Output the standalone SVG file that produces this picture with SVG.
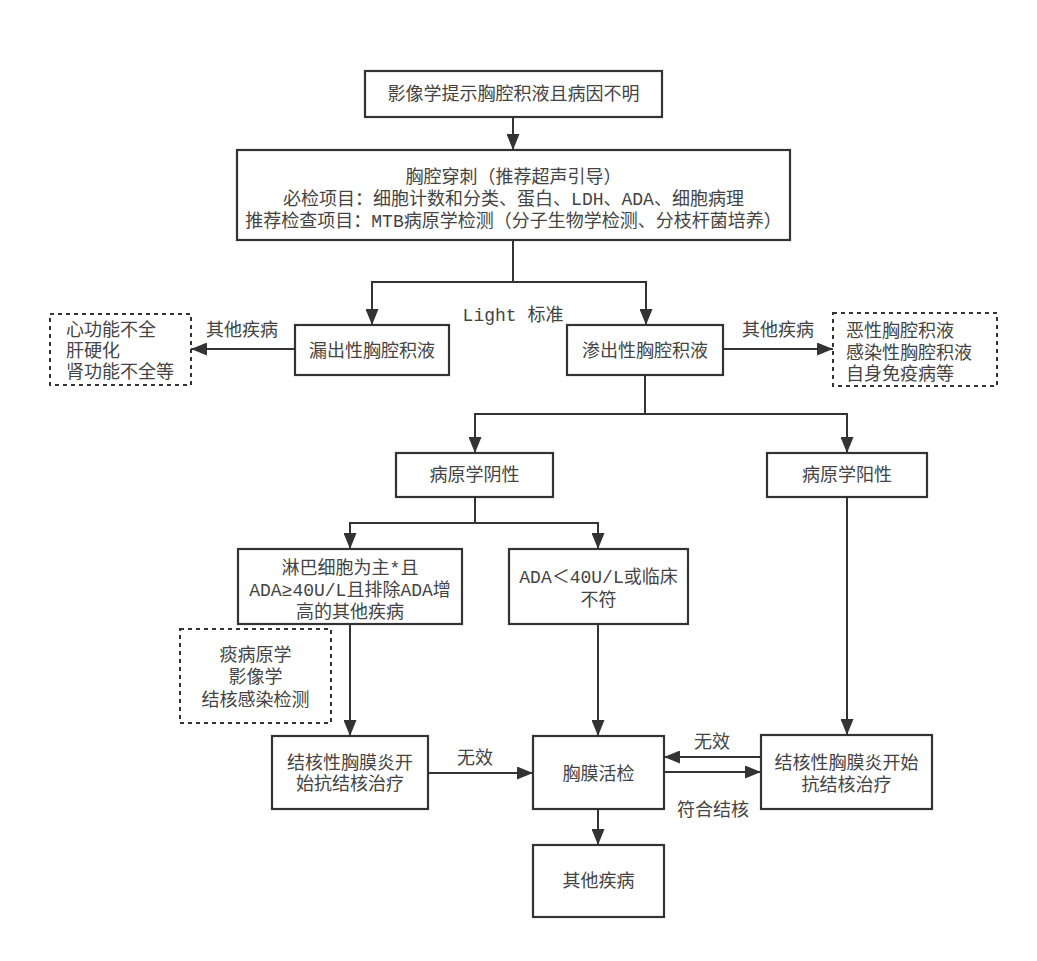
<svg xmlns="http://www.w3.org/2000/svg" width="1037" height="961" viewBox="0 0 1037 961">
<style>
.box{fill:#fff;stroke:#333;stroke-width:2.2}
.dash{fill:#fff;stroke:#333;stroke-width:2;stroke-dasharray:4 4}
.t{font-family:"Liberation Mono","Noto Sans CJK SC",sans-serif;font-size:18px;fill:#444;text-anchor:middle}
.tl{font-family:"Liberation Mono","Noto Sans CJK SC",sans-serif;font-size:18px;fill:#444;text-anchor:start}
.c{fill:none;stroke:#333;stroke-width:2}
</style>
<defs>
<marker id="ah" markerUnits="userSpaceOnUse" markerWidth="16" markerHeight="13" refX="16" refY="6.5" orient="auto">
<path d="M0,0 L16,6.5 L0,13 z" fill="#333"/>
</marker>
</defs>
<rect width="1037" height="961" fill="#fff"/>
<g id="connectors">
<path class="c" d="M513,117 V150" marker-end="url(#ah)"/>
<path class="c" d="M513,240 V282 H372 V325" marker-end="url(#ah)"/>
<path class="c" d="M513,282 H646 V325" marker-end="url(#ah)"/>
<path class="c" d="M295,349 H191" marker-end="url(#ah)"/>
<path class="c" d="M723,349 H833" marker-end="url(#ah)"/>
<path class="c" d="M645,375 V414 H475 V453" marker-end="url(#ah)"/>
<path class="c" d="M645,414 H847 V453" marker-end="url(#ah)"/>
<path class="c" d="M475,497 V523 H350 V549" marker-end="url(#ah)"/>
<path class="c" d="M475,523 H598 V549" marker-end="url(#ah)"/>
<path class="c" d="M350,624 V736" marker-end="url(#ah)"/>
<path class="c" d="M598,624 V736" marker-end="url(#ah)"/>
<path class="c" d="M847,497 V735" marker-end="url(#ah)"/>
<path class="c" d="M428,773 H533" marker-end="url(#ah)"/>
<path class="c" d="M761,757 H664" marker-end="url(#ah)"/>
<path class="c" d="M664,772 H761" marker-end="url(#ah)"/>
<path class="c" d="M598,809 V845" marker-end="url(#ah)"/>
<text class="t" x="513" y="321">Light 标准</text>
<text class="t" x="242" y="336">其他疾病</text>
<text class="t" x="778" y="336">其他疾病</text>
<text class="t" x="475" y="764">无效</text>
<text class="t" x="712" y="748">无效</text>
<text class="t" x="713" y="816">符合结核</text>
</g>
<g id="n1"><rect class="box" x="365" y="71" width="297" height="46"/><text class="t" x="513.5" y="100">影像学提示胸腔积液且病因不明</text></g>
<g id="n2"><rect class="box" x="237" y="150" width="553" height="90"/>
<text class="t" x="513.5" y="183">胸腔穿刺（推荐超声引导）</text>
<text class="t" x="513.5" y="205">必检项目：细胞计数和分类、蛋白、LDH、ADA、细胞病理</text>
<text class="t" x="513.5" y="227">推荐检查项目：MTB病原学检测（分子生物学检测、分枝杆菌培养）</text></g>
<g id="n3"><rect class="box" x="295" y="325" width="154" height="50"/><text class="t" x="372" y="357">漏出性胸腔积液</text></g>
<g id="n4"><rect class="box" x="567" y="325" width="156" height="50"/><text class="t" x="645" y="357">渗出性胸腔积液</text></g>
<g id="n5"><rect class="dash" x="50" y="314" width="141" height="71"/>
<text class="tl" x="66" y="336">心功能不全</text><text class="tl" x="66" y="357">肝硬化</text><text class="tl" x="66" y="378">肾功能不全等</text></g>
<g id="n6"><rect class="dash" x="833" y="313" width="164" height="73"/>
<text class="tl" x="846" y="337">恶性胸腔积液</text><text class="tl" x="846" y="359">感染性胸腔积液</text><text class="tl" x="846" y="380">自身免疫病等</text></g>
<g id="n7"><rect class="box" x="396" y="453" width="157" height="44"/><text class="t" x="474.5" y="481">病原学阴性</text></g>
<g id="n8"><rect class="box" x="767" y="453" width="160" height="44"/><text class="t" x="847" y="481">病原学阳性</text></g>
<g id="n9"><rect class="box" x="238" y="549" width="224" height="75"/>
<text class="t" x="350" y="574">淋巴细胞为主*且</text>
<text class="t" x="350" y="596">ADA≥40U/L且排除ADA增</text>
<text class="t" x="350" y="618">高的其他疾病</text></g>
<g id="n10"><rect class="box" x="509" y="549" width="179" height="75"/>
<text class="t" x="598.5" y="583">ADA＜40U/L或临床</text>
<text class="t" x="598.5" y="606">不符</text></g>
<g id="n11"><rect class="dash" x="180" y="629" width="151" height="94"/>
<text class="t" x="255.5" y="661">痰病原学</text><text class="t" x="255.5" y="683">影像学</text><text class="t" x="255.5" y="706">结核感染检测</text></g>
<g id="n12"><rect class="box" x="272" y="736" width="156" height="73"/>
<text class="t" x="350" y="769">结核性胸膜炎开</text><text class="t" x="350" y="790">始抗结核治疗</text></g>
<g id="n13"><rect class="box" x="533" y="736" width="131" height="73"/><text class="t" x="598.5" y="780">胸膜活检</text></g>
<g id="n14"><rect class="box" x="761" y="735" width="171" height="74"/>
<text class="t" x="846.5" y="769">结核性胸膜炎开始</text><text class="t" x="846.5" y="791">抗结核治疗</text></g>
<g id="n15"><rect class="box" x="533" y="845" width="131" height="72"/><text class="t" x="598.5" y="887">其他疾病</text></g>
</svg>
